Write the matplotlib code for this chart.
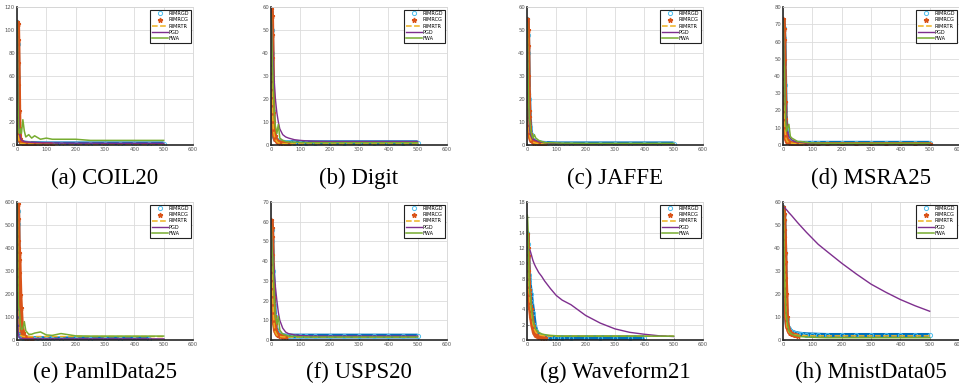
## plot.py : courbes de convergence (8 jeux de donnees)
import numpy as np
import matplotlib
matplotlib.use('Agg')
import matplotlib.pyplot as plt

# grille d'iterations commune
it = [1, 2, 3, 4, 5, 6, 7, 8, 10, 12, 15, 20, 25, 30, 40, 50, 60, 80, 100,
      120, 150, 200, 250, 300, 350, 400, 450, 500]

# (a) COIL20
coil_rgd = [107, 88, 59, 35, 20, 12, 8, 6, 4, 3, 2.5, 2, 1.8, 1.6, 1.4, 1.3, 1.2, 1.1,
            1, 1, 1, 1, 1, 1, 1, 1, 1, 1]
coil_rcg = [107, 105, 91, 71, 52, 30, 15, 9, 5, 3.5, 2.5, 1.5, 1.2, 1, 0.8, 0.7, 0.6,
            0.5, 0.4, 0.4]
coil_rtr = [100, 60, 30, 15, 8, 5, 4, 3, 2, 1.5, 1.2, 1, 0.9, 0.8, 0.7, 0.6, 0.6, 0.5,
            0.5, 0.5, 0.5, 0.5, 0.5, 0.5, 0.5, 0.5, 0.5, 0.5]
coil_pgd = [100, 80, 60, 45, 35, 25, 18, 13, 8, 6, 4.5, 3.5, 3, 2.8, 2.5, 2.3, 2.2, 2,
            1.9, 1.8, 1.7, 1.6, 1.6, 1.5, 1.5, 1.5, 1.5, 1.5]
coil_fwa = [107, 75, 43, 30, 20, 15, 12, 10, 12, 14, 10, 22, 12, 7, 9, 6, 8, 5, 6, 5,
            5, 5, 4, 4, 4, 4, 4, 4]

# (b) Digit
digit_rgd = [58, 50, 40, 30, 22, 15, 11, 8, 5, 3.5, 2.5, 2, 1.6, 1.4, 1.2, 1.1, 1.1, 1,
             1, 1, 1, 1, 1, 1, 1, 1, 1, 1]
digit_rcg = [59, 56, 48, 38, 28, 20, 14, 10, 6, 4, 2.5, 1.8, 1.2, 1, 0.8, 0.6, 0.5]
digit_rtr = [55, 45, 35, 25, 18, 12, 9, 7, 5, 3.5, 2.5, 1.5, 1, 0.8, 0.6, 0.5, 0.5, 0.5,
             0.5, 0.5, 0.5, 0.5, 0.5, 0.5, 0.5, 0.5, 0.5, 0.5]
digit_pgd = [55, 52, 49, 46, 43, 40, 37, 34, 30, 26, 20, 14, 10, 7, 4.5, 3.5, 3, 2.3,
             2, 1.8, 1.6, 1.5, 1.5, 1.5, 1.5, 1.5, 1.5, 1.5]
digit_fwa = [57, 50, 45, 40, 35, 32, 28, 24, 18, 12, 8, 5, 9, 3, 2, 1.5, 1.3, 1.2, 1.1,
             1, 1, 1, 1, 1, 1, 1, 1, 1]

# (c) JAFFE
jaffe_rgd = [55, 48, 40, 32, 25, 20, 15, 12, 8, 5, 3, 2, 1.5, 1.2, 1, 0.8, 0.7, 0.6,
             0.5, 0.5, 0.5, 0.5, 0.5, 0.5, 0.5, 0.5, 0.5, 0.5]
jaffe_rcg = [55, 50, 43, 30, 22, 15, 12, 8, 5, 3, 2, 1.5, 1, 0.8, 0.6, 0.5, 0.4]
jaffe_rtr = [50, 40, 30, 20, 14, 10, 7, 5, 3.5, 2.5, 1.8, 1.2, 1, 0.8, 0.6, 0.5, 0.5,
             0.5, 0.5, 0.5, 0.5, 0.5, 0.5, 0.5, 0.5, 0.5, 0.5, 0.5]
jaffe_pgd = [45, 38, 30, 24, 18, 14, 11, 9, 6, 4.5, 3.5, 2.5, 2.2, 2, 1.5, 1.2, 1, 0.8,
             0.7, 0.6, 0.5, 0.5, 0.5, 0.5, 0.5, 0.5, 0.5, 0.5]
jaffe_fwa = [53, 45, 35, 28, 22, 17, 14, 11, 10, 7, 5, 3, 4.5, 3, 2, 1.5, 1, 1, 0.9,
             0.8, 0.8, 0.7, 0.7, 0.7, 0.7, 0.7, 0.7, 0.7]

# (d) MSRA25
msra_rgd = [72, 68, 62, 57, 45, 35, 25, 18, 10, 6, 4, 2.5, 2, 1.5, 1.2, 1, 1, 1, 1, 1,
            1, 1, 1, 1, 1, 1, 1, 1]
msra_rcg = [73, 67, 61, 49, 35, 25, 15, 10, 5, 3, 2, 1.5, 1, 0.8, 0.6, 0.5, 0.4, 0.4,
            0.3, 0.3, 0.3, 0.3, 0.3, 0.3, 0.3, 0.3, 0.3, 0.3]
msra_rtr = [70, 55, 40, 30, 20, 14, 10, 7, 4, 3, 2, 1.5, 1.2, 1, 0.8, 0.7, 0.6, 0.5,
            0.5, 0.5, 0.5, 0.5, 0.5, 0.5, 0.5, 0.5, 0.5, 0.5]
msra_pgd = [70, 62, 55, 50, 45, 38, 32, 25, 18, 13, 8, 5, 4, 3, 2, 1.8, 1.5, 1.2, 1,
            0.9, 0.8, 0.8, 0.8, 0.8, 0.8, 0.8, 0.8, 0.8]
msra_fwa = [72, 60, 50, 46, 45, 35, 25, 20, 12, 8, 10, 12, 5, 4, 3, 2, 2, 1.5, 1.2,
            1.1, 1, 1, 1, 1, 1, 1, 1, 1]

# (e) PamlData25
paml_rgd = [600, 560, 505, 300, 150, 80, 50, 30, 20, 15, 12, 10, 9, 8, 7, 7, 6, 6, 6,
            5, 5, 5, 5, 5, 5, 5, 5]
paml_rcg = [600, 590, 525, 430, 400, 380, 350, 290, 195, 140, 65, 30, 15, 10, 8, 6]
paml_rtr = [550, 400, 250, 150, 90, 60, 45, 35, 25, 20, 18, 16, 15, 15, 15, 15, 15, 15,
            15, 15, 15, 15, 15, 15, 15, 15, 15, 15]
paml_pgd = [200, 120, 70, 40, 25, 18, 14, 11, 9, 8, 7, 6, 6, 5, 5, 5, 5, 5, 5, 5, 5,
            5, 5, 5, 5, 5, 5, 5]
paml_fwa = [600, 450, 300, 200, 150, 140, 135, 130, 100, 60, 45, 50, 80, 40, 25, 25,
            30, 35, 22, 20, 28, 18, 17, 17, 17, 17, 17, 17]

# (f) USPS20
usps_rgd = [60, 56, 50, 45, 40, 35, 30, 26, 18, 12, 7, 4, 3, 2.5, 2.2, 2, 2, 2, 2, 2,
            2, 2, 2, 2, 2, 2, 2, 2]
usps_rcg = [61, 57, 52, 43, 35, 28, 22, 17, 12, 8, 5, 3, 2.5, 2, 1.7, 1.5]
usps_rtr = [58, 50, 42, 35, 28, 22, 18, 14, 9, 6, 4, 2.5, 2, 1.8, 1.6, 1.5, 1.5, 1.5,
            1.5, 1.5, 1.5, 1.5, 1.5, 1.5, 1.5, 1.5, 1.5, 1.5]
usps_pgd = [55, 52, 50, 48, 46, 44, 42, 40, 36, 32, 27, 20, 14, 10, 6, 4, 3.2, 2.6,
            2.3, 2.1, 2, 2, 2, 2, 2, 2, 2, 2]
usps_fwa = [58, 52, 48, 45, 43, 42, 38, 34, 25, 18, 12, 8, 12, 5, 3, 2.5, 2, 1.8, 1.6,
            1.5, 1.5, 1.5, 1.5, 1.5, 1.5, 1.5, 1.5, 1.5]

# (g) Waveform21
wave_rgd = [14, 12.5, 11, 10, 9, 8.5, 8, 7.5, 6.5, 6, 5, 3.5, 2, 1.2, 0.5, 0.4, 0.35,
            0.3, 0.3, 0.3, 0.3, 0.3, 0.3, 0.3, 0.3, 0.3]
wave_rcg = [13.8, 12, 11, 9, 7.5, 6.5, 6, 5.5, 4.5, 4, 3, 1.8, 1, 0.6, 0.35, 0.3, 0.3]
wave_rtr = [13, 11, 9.5, 8.5, 7.5, 7, 6.5, 6, 5, 4.5, 3.5, 2.2, 1.4, 1, 0.7, 0.6, 0.55,
            0.5, 0.5, 0.5, 0.5, 0.5, 0.5, 0.5, 0.5, 0.5, 0.5, 0.5]
wave_pgd = [12.0, 11.95, 11.9, 11.9, 11.9, 11.85, 11.85, 11.8, 11.7, 11.5, 11.1, 10.4,
            9.9, 9.5, 8.8, 8.3, 7.7, 6.7, 5.8, 5.2, 4.6, 3.2, 2.2, 1.45, 1.0, 0.75,
            0.55, 0.45]
wave_fwa = [16.3, 16, 15, 14, 12, 10, 8, 7, 6, 5.5, 4, 2.5, 1.8, 1.4, 1.0, 0.8, 0.7,
            0.6, 0.55, 0.5, 0.5, 0.5, 0.5, 0.5, 0.5, 0.5, 0.5, 0.5]

# (h) MnistData05
mnist_rgd = [58, 55, 52, 48, 45, 38, 30, 24, 13, 9, 6, 5, 4, 3.5, 3, 2.7, 2.5, 2.3,
             2.2, 2.1, 2, 2, 2, 2, 2, 2, 2, 2]
mnist_rcg = [58, 55, 52, 48, 45, 38, 34, 27, 20, 10, 6, 4, 3, 2.5, 2, 1.8]
mnist_rtr = [57, 50, 45, 40, 35, 30, 25, 20, 12, 8, 5, 3.5, 3, 2.5, 2.2, 2, 2, 1.9,
             1.8, 1.8, 1.8, 1.8, 1.8, 1.8, 1.8, 1.8, 1.8, 1.8]
mnist_pgd = [58, 57.9, 57.8, 57.7, 57.5, 57.4, 57.3, 57.2, 56.9, 56.6, 56.2, 55.4, 54.7,
             54, 52.5, 51, 49.6, 46.8, 44.2, 41.6, 38.5, 33.4, 28.7, 24.3, 20.8, 17.6,
             14.9, 12.5]
mnist_fwa = [58, 55, 45, 38, 30, 25, 21, 18, 12, 10, 7, 4, 3, 2.5, 2, 1.8, 1.5, 1.3,
             1.2, 1.1, 1, 1, 1, 1, 1, 1, 1, 1]

titles = ['(a) COIL20', '(b) Digit', '(c) JAFFE', '(d) MSRA25',
          '(e) PamlData25', '(f) USPS20', '(g) Waveform21', '(h) MnistData05']
ymax = [120, 60, 60, 80, 600, 70, 18, 60]
ystep = [20, 10, 10, 10, 100, 10, 2, 10]
panels = [
    (coil_rgd, coil_rcg, coil_rtr, coil_pgd, coil_fwa),
    (digit_rgd, digit_rcg, digit_rtr, digit_pgd, digit_fwa),
    (jaffe_rgd, jaffe_rcg, jaffe_rtr, jaffe_pgd, jaffe_fwa),
    (msra_rgd, msra_rcg, msra_rtr, msra_pgd, msra_fwa),
    (paml_rgd, paml_rcg, paml_rtr, paml_pgd, paml_fwa),
    (usps_rgd, usps_rcg, usps_rtr, usps_pgd, usps_fwa),
    (wave_rgd, wave_rcg, wave_rtr, wave_pgd, wave_fwa),
    (mnist_rgd, mnist_rcg, mnist_rtr, mnist_pgd, mnist_fwa),
]

W, H = 959, 389
fig = plt.figure(figsize=(W / 100, H / 100), dpi=100)
lefts = [17, 271, 527, 783]
tops = [7, 202]
aw, ah = 176, 138
caption_y = [178, 372]

for k, (rgd, rcg, rtr, pgd, fwa) in enumerate(panels):
    r, c = divmod(k, 4)
    ax = fig.add_axes([lefts[c] / W, 1 - (tops[r] + ah) / H, aw / W, ah / H])
    # bandes epaisses + marqueurs
    ax.plot(it[:len(rgd)], rgd, '-', color='#0072BD', lw=3.5, solid_capstyle='butt')
    ax.plot(it[:len(rgd)], rgd, 'o', mec='#4DBEEE', mfc='none', ms=3, mew=0.7,
            label='RIMRGD')
    ax.plot(it[:len(rcg)], rcg, '-', color='#D95319', lw=3.5, solid_capstyle='butt')
    ax.plot(it[:len(rcg)], rcg, '*', color='#D95319', ms=3.5, label='RIMRCG')
    ax.plot(it[:len(rtr)], rtr, '--', color='#EDB120', lw=1.1, label='RIMRTR')
    ax.plot(it[:len(pgd)], pgd, '-', color='#7E2F8E', lw=1.0, label='PGD')
    ax.plot(it[:len(fwa)], fwa, '-', color='#77AC30', lw=1.1, label='FWA')

    ax.set_xlim(0, 600)
    ax.set_ylim(0, ymax[k])
    ax.set_xticks(np.arange(0, 601, 100))
    ax.set_yticks(np.arange(0, ymax[k] + 0.1, ystep[k]))
    ax.grid(True, color='#dcdcdc', lw=0.6)
    ax.set_axisbelow(True)
    for s in ['left', 'bottom']:
        ax.spines[s].set_color('#262626')
        ax.spines[s].set_linewidth(1.2)
    for s in ['top', 'right']:
        ax.spines[s].set_color('#d5d5d5')
        ax.spines[s].set_linewidth(0.6)
    ax.tick_params(labelsize=3.8, colors='#555555', length=1.5, width=0.5,
                   direction='in', pad=1.5)
    leg = ax.legend(loc='upper right', fontsize=3.6, frameon=True, fancybox=False,
                    framealpha=1, edgecolor='#222222', borderpad=0.3,
                    handlelength=3.2, handletextpad=0.2, labelspacing=0.25,
                    borderaxespad=0.5)
    leg.get_frame().set_linewidth(0.8)
    fig.text((lefts[c] + aw / 2) / W, 1 - caption_y[r] / H, titles[k],
             ha='center', va='center', fontsize=16.5, family='Liberation Serif')

fig.savefig('out.png', dpi=100)
